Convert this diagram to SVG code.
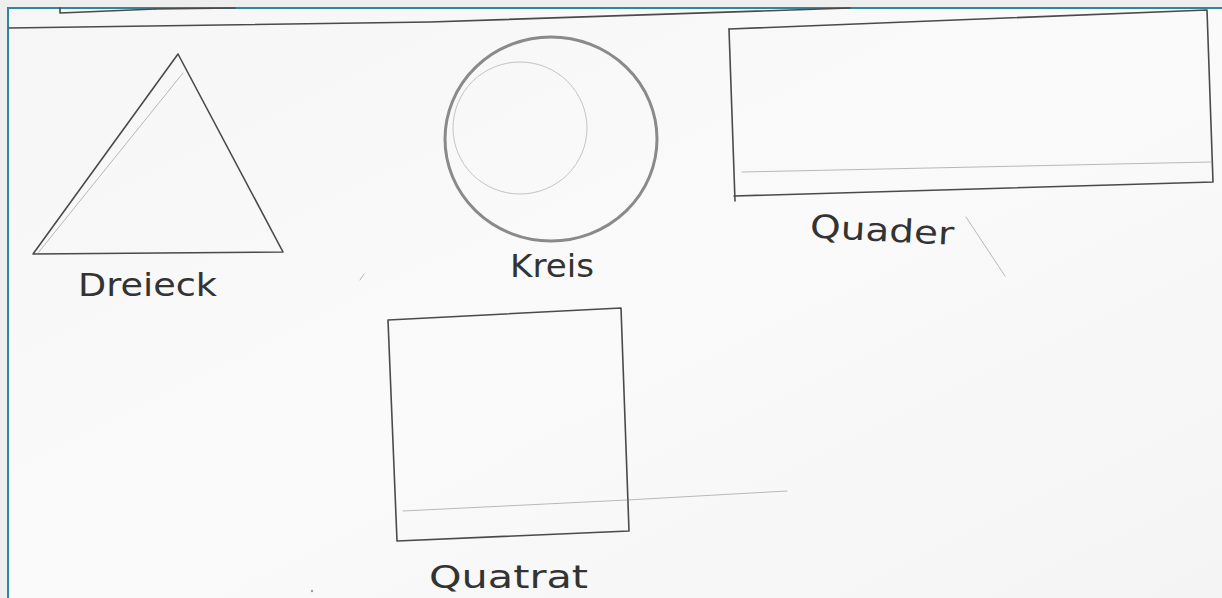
<svg xmlns="http://www.w3.org/2000/svg" width="1222" height="598" viewBox="0 0 1222 598">
  <style>
    .pen { fill: none; stroke: #4a4a4a; stroke-width: 1.6; stroke-linejoin: round; stroke-linecap: round; }
    .faint { fill: none; stroke: #b8b8b8; stroke-width: 1; stroke-linecap: round; }
    .hand { font-family: "DejaVu Sans", "Liberation Sans", sans-serif; fill: #333333; font-size: 32px; }
  </style>
  <defs>
    <linearGradient id="paper" x1="0" y1="0" x2="1" y2="1">
      <stop offset="0" stop-color="#f6f6f6"/>
      <stop offset="0.5" stop-color="#fafafa"/>
      <stop offset="1" stop-color="#f4f4f4"/>
    </linearGradient>
  </defs>

  <!-- outer background and paper frame -->
  <rect x="0" y="0" width="1222" height="598" fill="#eeeeee"/>
  <rect x="8" y="8" width="1230" height="600" fill="url(#paper)" stroke="#2d87a0" stroke-width="2"/>

  <!-- decorative pencil lines -->
  <g id="decor">
    <path class="pen" d="M60 8 L60 13 L155 9" stroke="#333"/>
    <path class="pen" d="M155 9 L235 8" stroke="#888" stroke-width="1"/>
    <path class="pen" d="M9 28 L430 22 L850 8" stroke="#666" stroke-width="1.1"/>
    <path class="faint" d="M966 217 L1005 276" stroke="#777"/>
    <path class="faint" d="M627 500 L787 491"/>
    <circle cx="312" cy="591" r="1.2" fill="#999"/>
    <path class="faint" d="M360 280 L364 274" stroke="#ccc"/>
  </g>

  <g id="connectors"></g>

  <!-- Dreieck -->
  <g id="dreieck">
    <path class="pen" d="M178 54 L283 252 L33 254 Z" stroke="#555"/>
    <path class="faint" d="M183 73 L38 253"/>
    <text class="hand" x="78" y="296" textLength="139" lengthAdjust="spacingAndGlyphs">Dreieck</text>
  </g>

  <!-- Kreis -->
  <g id="kreis">
    <ellipse cx="551" cy="139" rx="106" ry="102" fill="none" stroke="#8a8a8a" stroke-width="3"/>
    <ellipse cx="520" cy="128" rx="67" ry="66" fill="none" stroke="#c4c4c4" stroke-width="1"/>
    <text class="hand" x="510" y="277" textLength="84" lengthAdjust="spacingAndGlyphs">Kreis</text>
  </g>

  <!-- Quader -->
  <g id="quader">
    <path class="pen" d="M729 29 L1207 10 L1213 182 L734 196" stroke="#555"/>
    <path class="pen" d="M729 29 L735 201" stroke="#555"/>
    <path class="faint" d="M742 172 L1211 162" stroke="#aaa"/>
    <text class="hand" x="810" y="241" font-size="33" textLength="144" lengthAdjust="spacingAndGlyphs" transform="rotate(3 880 232)">Quader</text>
  </g>

  <!-- Quatrat -->
  <g id="quatrat">
    <path class="pen" d="M388 320 L621 308 L629 531 L397 541 Z" stroke="#555"/>
    <path class="faint" d="M403 511 L627 500"/>
    <text class="hand" x="429" y="588" textLength="159" lengthAdjust="spacingAndGlyphs">Quatrat</text>
  </g>
</svg>
